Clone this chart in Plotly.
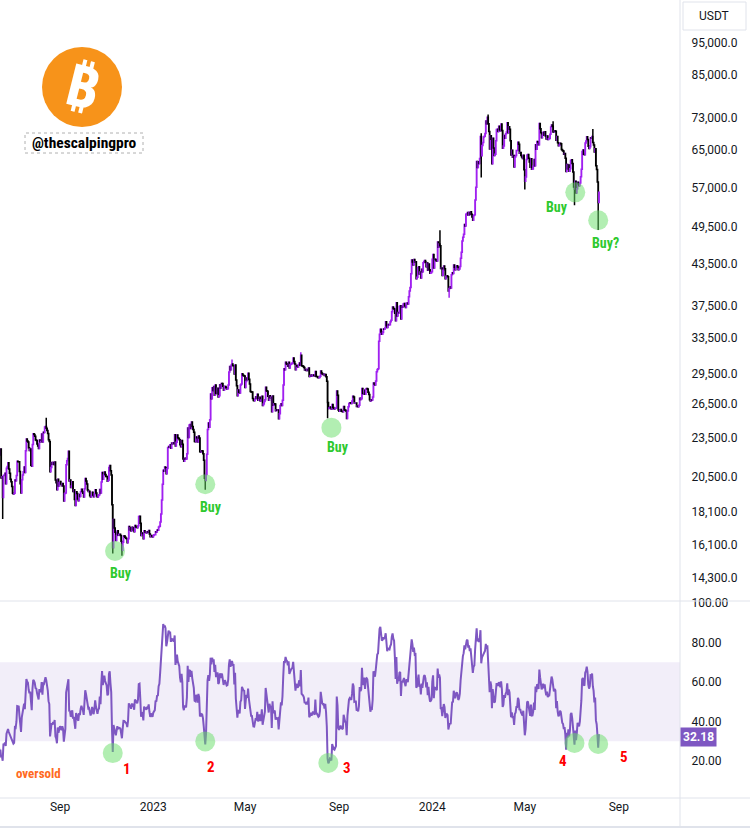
import numpy as np
import pandas as pd
import plotly.graph_objects as go

# BTCUSDT daily closes (May 2022 is only RSI warm-up, off screen)
close_2022_05 = [38470, 38520, 37720, 39690, 36550, 36010, 35470, 34040, 30100, 31010, 28940, 29030, 29290, 30080, 31330, 29850,
                 30430, 28700, 30310, 29180, 29430, 30290, 29100, 29650, 29540, 29200, 28630, 29030, 29470, 31730, 31800]
close_2022_06 = [29800, 30450, 29700, 29860, 29910, 31370, 31130, 30200, 30110, 29090, 28420, 26570, 22490, 22130, 22580,
                 20380, 20470, 19020, 20560, 20570, 20720, 19970, 21090, 21230, 21500, 21030, 20730, 20280, 20100, 19780]
close_2022_07 = [19300, 19250, 19300, 20230, 20180, 20550, 21630, 21590, 21590, 20850, 19960, 19330, 20250, 20590, 20830, 21190,
                 20780, 22430, 23400, 23220, 23150, 22680, 22450, 22580, 21310, 21250, 22950, 23840, 23770, 23630, 23300]
close_2022_08 = [23270, 22990, 22820, 22620, 23310, 23170, 23180, 23810, 23150, 23950, 23930, 24400, 24440, 24310, 24100, 23850,
                 23340, 23190, 20830, 21140, 21520, 21400, 21530, 21370, 21560, 20240, 20040, 19550, 20290, 19800, 20050]
close_2022_09 = [20130, 19950, 19830, 19990, 19800, 18790, 19290, 19320, 21360, 21650, 21830, 22400, 20170, 20230, 19700, 19800,
                 20110, 19420, 19540, 18880, 18490, 19410, 19290, 18920, 18800, 19220, 19080, 19410, 19590, 19420]
close_2022_10 = [19310, 19060, 19620, 20340, 20160, 19950, 19530, 19420, 19440, 19130, 19060, 19150, 19380, 19180, 19070, 19260,
                 19550, 19330, 19120, 19040, 19160, 19200, 19570, 19330, 20090, 20770, 20290, 20600, 20810, 20630, 20490]
close_2022_11 = [20480, 20150, 20210, 21150, 21300, 20910, 20590, 18540, 15920, 17600, 17070, 16810, 16330, 16620, 16900, 16660,
                 16690, 16700, 16630, 16280, 15780, 16230, 16600, 16590, 16520, 16460, 16430, 16210, 16440, 17170]
close_2022_12 = [16970, 17090, 16890, 17110, 16970, 17090, 16840, 17230, 17130, 17130, 17090, 17210, 17780, 17800, 17360, 16630,
                 16780, 16740, 16440, 16900, 16820, 16830, 16780, 16840, 16830, 16920, 16710, 16550, 16630, 16600, 16540]
close_2023_01 = [16620, 16670, 16670, 16850, 16830, 16950, 16940, 17130, 17180, 17440, 17940, 18850, 19930, 20950, 20870, 21190,
                 21130, 20680, 21070, 22670, 22780, 22710, 22920, 22630, 23060, 23010, 23080, 23030, 23740, 22830, 23130]
close_2023_02 = [23730, 23490, 23430, 23330, 22930, 22760, 23260, 22960, 21800, 21630, 21860, 21780, 21790, 22200, 24330, 23520,
                 24570, 24630, 24280, 24840, 24450, 24190, 23950, 23190, 23160, 23550, 23490, 23140]
close_2023_03 = [23640, 23470, 22360, 22350, 22430, 22410, 22200, 21700, 20360, 20190, 20630, 22160, 24200, 24750, 24380, 25050,
                 27420, 26970, 28040, 27770, 28170, 27300, 28330, 27490, 27490, 27990, 27140, 27270, 28350, 28030, 28480]
close_2023_04 = [28470, 28200, 27800, 28170, 28180, 28050, 27920, 27950, 28330, 29650, 30240, 29890, 30390, 30490, 30320, 30320,
                 29440, 30390, 28820, 28240, 27270, 27820, 27590, 27520, 28310, 28420, 29480, 29340, 29250, 29230]
close_2023_05 = [28070, 28680, 29030, 28850, 29530, 28900, 28430, 27670, 27630, 27620, 26990, 26800, 26790, 26930, 27170, 27030,
                 27400, 26830, 26890, 27120, 26750, 26850, 27220, 26330, 26470, 26720, 26870, 28090, 27750, 27700, 27220]
close_2023_06 = [26820, 27250, 27070, 27120, 25760, 27240, 26350, 26500, 26480, 25850, 25940, 25900, 25920, 25120, 25580, 26330,
                 26510, 26340, 26840, 28310, 30000, 29890, 30690, 30530, 30470, 30270, 30690, 30080, 30440, 30470]
close_2023_07 = [30590, 30620, 31160, 30770, 30510, 29900, 30350, 30290, 30170, 30410, 30620, 30380, 31450, 30320, 30290, 30230,
                 30140, 29860, 29910, 29800, 29910, 29800, 30080, 29180, 29230, 29350, 29210, 29310, 29350, 29280, 29230]
close_2023_08 = [29700, 29180, 29180, 29070, 29060, 29080, 29200, 29770, 29560, 29430, 29400, 29420, 29280, 29400, 29170, 28700,
                 26620, 26050, 26100, 26190, 26120, 25990, 26430, 26160, 26050, 26010, 26090, 26100, 27720, 27300, 25930]
close_2023_09 = [25800, 25870, 25970, 25810, 25780, 25750, 26240, 25910, 25890, 25830, 25160, 25840, 26220, 26530, 26600, 26560,
                 26530, 26760, 27210, 27130, 26570, 26580, 26580, 26250, 26300, 26220, 26370, 27030, 26910, 26970]
close_2023_10 = [27980, 27500, 27430, 27790, 27410, 27930, 27960, 27920, 27590, 27390, 26880, 26750, 26860, 26850, 27150, 28510,
                 28410, 28330, 28720, 29680, 29910, 29990, 33070, 33900, 34500, 34150, 33900, 34090, 34530, 34490, 34650]
close_2023_11 = [35420, 34940, 34720, 35080, 35040, 35050, 35420, 35620, 36700, 37310, 37130, 37060, 36490, 35540, 37880, 36160,
                 36590, 36580, 37390, 37470, 35760, 37410, 37290, 37720, 37800, 37450, 37240, 37830, 37850, 37720]
close_2023_12 = [38690, 39480, 39970, 41990, 44090, 43780, 43290, 44170, 43720, 43790, 41240, 41450, 42890, 43020, 41940, 42260,
                 41360, 42660, 42270, 43650, 43860, 43990, 43740, 43020, 43610, 42520, 43440, 42580, 42070, 42140, 42280]
close_2024_01 = [44180, 44950, 42850, 44180, 44160, 43970, 43930, 46970, 46120, 46650, 46340, 42780, 42840, 41730, 42510, 43150,
                 42740, 41260, 41620, 41670, 41550, 39510, 39850, 40080, 39930, 41820, 42120, 42030, 43300, 42940, 42580]
close_2024_02 = [43080, 43190, 43000, 42580, 42700, 43090, 44340, 45290, 47130, 47750, 48290, 49960, 49700, 51800, 51910, 52130,
                 51630, 52120, 51780, 52280, 51840, 51300, 50740, 51570, 51730, 54480, 57040, 62430, 61130]
close_2024_03 = [62390, 62030, 63130, 68250, 63720, 66070, 66820, 68120, 68310, 68950, 72080, 71400, 73070, 71380, 69470, 65300,
                 68390, 67590, 61940, 67840, 65490, 63780, 64060, 67210, 69950, 69990, 69450, 70740, 69890, 69640, 71330]
close_2024_04 = [69700, 65460, 65980, 68500, 67840, 68900, 69360, 71620, 69150, 70620, 70010, 67190, 63920, 64970, 63420, 63800,
                 61280, 63470, 63820, 64940, 64940, 66840, 66410, 64280, 64500, 63770, 63460, 63120, 63840, 60640]
close_2024_05 = [58250, 59120, 62890, 63890, 64030, 63160, 62330, 61190, 63070, 60790, 60820, 61450, 62900, 61550, 66250, 65230,
                 67050, 66940, 66280, 71450, 70140, 69120, 67930, 68530, 69280, 68510, 69390, 68370, 67630, 68350, 67490]
close_2024_06 = [67710, 67760, 68800, 70570, 71080, 70760, 69340, 69310, 69650, 69510, 67320, 68240, 66760, 66010, 66190, 66640,
                 66490, 65150, 64960, 64830, 64100, 64250, 63180, 60280, 61800, 60860, 61680, 60320, 60890, 62680]
close_2024_07 = [62850, 62030, 60200, 57050, 56640, 58230, 55860, 56710, 58050, 57720, 57340, 57890, 59200, 60790, 64720, 65040,
                 64090, 63970, 66680, 67150, 68160, 67530, 65930, 65370, 65780, 67910, 67890, 68250, 66780, 66190, 64620]
close_2024_08 = [65350, 61500, 60690, 58110, 54020, 56030]

# wick extremes on a few notable days
wick_low = {'2022-06-18': 17620, '2022-11-09': 15600, '2022-11-21': 15480, '2023-03-10': 19550,
            '2023-08-17': 25170, '2024-01-23': 38550, '2024-03-05': 59000, '2024-05-01': 56550,
            '2024-07-05': 53500, '2024-08-05': 49000}
wick_high = {'2022-08-14': 25210, '2023-04-14': 31000, '2023-07-13': 31800, '2024-01-11': 48970,
             '2024-03-05': 69000, '2024-03-14': 73780, '2024-06-07': 71990, '2024-07-29': 70080}

# price axis ticks
price_ticks = [14300, 16100, 18100, 20500, 23500, 26500, 29500, 33500, 37500, 43500,
               49500, 57000, 65000, 73000, 85000, 95000]
rsi_ticks = [20, 40, 60, 80, 100]
time_ticks = ['2022-09-01', '2023-01-01', '2023-05-01', '2023-09-01', '2024-01-01', '2024-05-01', '2024-09-01']
time_labels = ['Sep', '2023', 'May', 'Sep', '2024', 'May', 'Sep']

# marked buy zones on price and oversold touches on RSI
buy_dates = ['2022-11-12', '2023-03-10', '2023-08-22', '2024-07-06', '2024-08-05']
buy_prices = [15735, 19930, 24350, 56000, 50740]
buy_labels = ['Buy', 'Buy', 'Buy', 'Buy', 'Buy?']
rsi_dates = ['2022-11-09', '2023-03-10', '2023-08-18', '2024-07-05', '2024-08-05']
rsi_lows = [24.0, 29.9, 19.0, 29.1, 28.6]
rsi_labels = ['1', '2', '3', '4', '5']
rsi_last = 32.18

closes = (close_2022_05 + close_2022_06 + close_2022_07 + close_2022_08 + close_2022_09 + close_2022_10 +
          close_2022_11 + close_2022_12 + close_2023_01 + close_2023_02 + close_2023_03 + close_2023_04 +
          close_2023_05 + close_2023_06 + close_2023_07 + close_2023_08 + close_2023_09 + close_2023_10 +
          close_2023_11 + close_2023_12 + close_2024_01 + close_2024_02 + close_2024_03 + close_2024_04 +
          close_2024_05 + close_2024_06 + close_2024_07 + close_2024_08)

df = pd.DataFrame({'close': closes}, index=pd.date_range('2022-05-01', periods=len(closes), freq='D'))
df['open'] = df['close'].shift(1).fillna(df['close'])
df['high'] = df[['open', 'close']].max(axis=1)
df['low'] = df[['open', 'close']].min(axis=1)
for d, v in wick_low.items():
    df.loc[d, 'low'] = min(v, df.loc[d, 'low'])
for d, v in wick_high.items():
    df.loc[d, 'high'] = max(v, df.loc[d, 'high'])

# RSI 14 (Wilder)
delta = df['close'].diff()
gain = delta.clip(lower=0).ewm(alpha=1 / 14, adjust=False).mean()
loss = (-delta.clip(upper=0)).ewm(alpha=1 / 14, adjust=False).mean()
df['rsi'] = 100 - 100 / (1 + gain / loss)

PURPLE = '#a020f0'
RSI_COLOR = '#7e57c2'
CIRCLE = 'rgba(102,221,102,0.5)'
COND = 'Roboto Condensed, sans-serif'

# plot area is 680 x 798 px
def X(px):
    return px / 680


def Y(py):
    return (798 - py) / 798


candles = go.Candlestick(
    x=df.index, open=df['open'], high=df['high'], low=df['low'], close=df['close'],
    increasing=dict(line=dict(color=PURPLE, width=1.5), fillcolor=PURPLE),
    decreasing=dict(line=dict(color='#000000', width=1.5), fillcolor='#000000'),
    showlegend=False, xaxis='x', yaxis='y'
)
rsi_line = go.Scatter(x=df.index, y=df['rsi'], mode='lines', line=dict(color=RSI_COLOR, width=2),
                      showlegend=False, xaxis='x', yaxis='y2')
buy_marks = go.Scatter(x=buy_dates, y=buy_prices, mode='markers', marker=dict(size=20, color=CIRCLE),
                       showlegend=False, xaxis='x', yaxis='y')
rsi_marks = go.Scatter(x=rsi_dates, y=rsi_lows, mode='markers', marker=dict(size=20, color=CIRCLE),
                       showlegend=False, xaxis='x', yaxis='y2')

annotations = []
buy_shift = [(6, -22), (6, -23), (7, -19), (-18, -15), (7, -23)]
for d, p, t, (dx, dy) in zip(buy_dates, buy_prices, buy_labels, buy_shift):
    annotations.append(dict(x=d, y=np.log10(p), xref='x', yref='y', text='<b>%s</b>' % t, showarrow=False,
                            xshift=dx, yshift=dy, font=dict(family=COND, size=14, color='#2ec92e')))
rsi_shift = [(14, -16), (6, -26), (19, -5), (-12, -18), (26, -13)]
for d, v, t, (dx, dy) in zip(rsi_dates, rsi_lows, rsi_labels, rsi_shift):
    annotations.append(dict(x=d, y=v, xref='x', yref='y2', text='<b>%s</b>' % t, showarrow=False,
                            xshift=dx, yshift=dy, font=dict(family=COND, size=15, color='#ff0000')))
annotations += [
    dict(x=X(38), y=Y(773), xref='paper', yref='paper', text='<b>oversold</b>', showarrow=False,
         xanchor='center', yanchor='middle', font=dict(family=COND, size=13, color='#ff6a22')),
    dict(x=X(84), y=Y(143), xref='paper', yref='paper', text='<b>@thescalpingpro</b>', showarrow=False,
         xanchor='center', yanchor='middle', font=dict(family=COND, size=15.5, color='#000000')),
    dict(x=X(82), y=Y(85), xref='paper', yref='paper', text='<b>₿</b>', showarrow=False, textangle=14,
         xanchor='center', yanchor='middle', font=dict(family='Noto Sans', size=58, color='#ffffff')),
    dict(x=X(714), y=Y(16), xref='paper', yref='paper', text='USDT', showarrow=False,
         xanchor='center', yanchor='middle', font=dict(family='Roboto', size=12, color='#131722')),
    dict(x=1, y=rsi_last, xref='paper', yref='y2', text='<b>%.2f</b>' % rsi_last, showarrow=False,
         xanchor='left', yanchor='middle', bgcolor=RSI_COLOR, borderpad=2,
         font=dict(family='Roboto', size=12, color='#ffffff')),
]

shapes = [
    dict(type='rect', xref='paper', yref='y2', x0=0, x1=1, y0=30, y1=70,
         fillcolor='rgba(126,87,194,0.1)', line=dict(width=0), layer='below'),
    dict(type='circle', xref='paper', yref='paper', xsizemode='pixel', ysizemode='pixel',
         xanchor=X(82), yanchor=Y(87), x0=-40, x1=40, y0=-40, y1=40,
         fillcolor='#f7931a', line=dict(width=0)),
    dict(type='rect', xref='paper', yref='paper', x0=X(25), x1=X(143), y0=Y(153), y1=Y(133),
         line=dict(color='#b0b0b0', width=1, dash='dot')),
    dict(type='rect', xref='paper', yref='paper', x0=X(683), x1=X(746), y0=Y(30), y1=Y(2),
         line=dict(color='#e0e3eb', width=1)),
    # pane separators
    dict(type='line', xref='paper', yref='paper', x0=1, x1=1, y0=Y(827), y1=1, line=dict(color='#e0e3eb', width=1)),
    dict(type='line', xref='paper', yref='paper', x0=0, x1=X(750), y0=Y(601), y1=Y(601), line=dict(color='#e0e3eb', width=1)),
    dict(type='line', xref='paper', yref='paper', x0=0, x1=X(750), y0=0, y1=0, line=dict(color='#e0e3eb', width=1)),
    dict(type='line', xref='paper', yref='paper', x0=0, x1=X(750), y0=Y(827), y1=Y(827), line=dict(color='#e0e3eb', width=2)),
]

tick_font = dict(family='Roboto', size=12, color='#131722')
layout = go.Layout(
    width=750, height=833,
    margin=dict(l=0, r=70, t=0, b=35, autoexpand=False),
    paper_bgcolor='#ffffff', plot_bgcolor='#ffffff',
    xaxis=dict(type='date', range=['2022-06-14 12:00', '2024-11-20'], anchor='y2', automargin=False,
               tickvals=time_ticks, ticktext=time_labels, showgrid=False, zeroline=False,
               showline=False, ticks='', tickfont=tick_font, rangeslider=dict(visible=False)),
    yaxis=dict(type='log', range=[4.1216, 5.0438], domain=[0.2481, 1], side='right', anchor='x',
               automargin=False, tickvals=price_ticks, ticktext=['{:,.1f}'.format(v) for v in price_ticks],
               showgrid=False, zeroline=False, showline=False, ticks='outside', ticklen=8,
               tickcolor='rgba(0,0,0,0)', tickfont=tick_font),
    yaxis2=dict(range=[1.25, 101], domain=[0, 0.2469], side='right', anchor='x', automargin=False,
                tickvals=rsi_ticks, ticktext=['%.2f' % v for v in rsi_ticks],
                showgrid=False, zeroline=False, showline=False, ticks='outside', ticklen=8,
                tickcolor='rgba(0,0,0,0)', tickfont=tick_font),
    annotations=annotations, shapes=shapes,
)

fig = go.Figure(data=[candles, rsi_line, buy_marks, rsi_marks], layout=layout)
fig.write_html('out.html', config={'displayModeBar': False},
               post_script="document.body.style.margin='0';")
